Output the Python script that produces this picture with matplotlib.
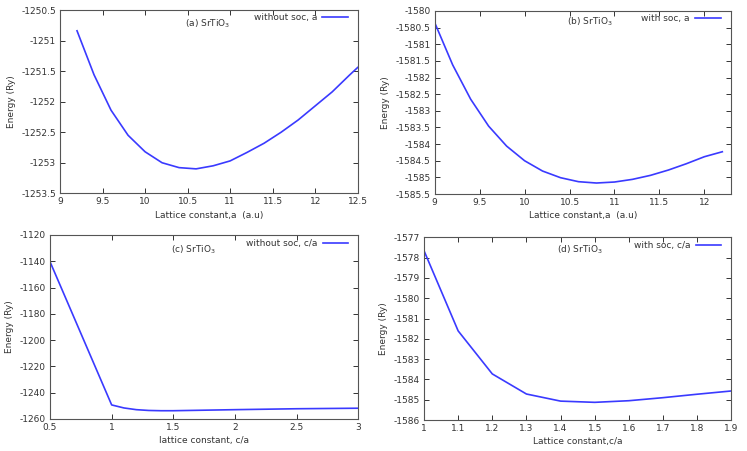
import matplotlib
matplotlib.use("Agg")
import matplotlib.pyplot as plt
import numpy as np

# ---- data ----
a_nosoc = [9.2, 9.4, 9.6, 9.8, 10.0, 10.2, 10.4, 10.6, 10.8, 11.0, 11.2, 11.4, 11.6, 11.8, 12.0, 12.2, 12.4, 12.5]
e_a_nosoc = [-1250.84, -1251.56, -1252.14, -1252.55, -1252.82, -1253.00, -1253.08, -1253.10, -1253.05,
             -1252.97, -1252.83, -1252.68, -1252.50, -1252.30, -1252.07, -1251.84, -1251.57, -1251.44]

a_soc = [9.0, 9.2, 9.4, 9.6, 9.8, 10.0, 10.2, 10.4, 10.6, 10.8, 11.0, 11.2, 11.4, 11.6, 11.8, 12.0, 12.2]
e_a_soc = [-1580.35, -1581.62, -1582.65, -1583.46, -1584.06, -1584.50, -1584.81, -1585.01, -1585.13,
           -1585.17, -1585.14, -1585.06, -1584.94, -1584.78, -1584.59, -1584.38, -1584.23]

ca_nosoc = [0.5, 1.0, 1.1, 1.2, 1.3, 1.4, 1.5, 2.0, 2.5, 3.0]
e_ca_nosoc = [-1140.3, -1249.3, -1251.6, -1252.9, -1253.5, -1253.7, -1253.7, -1252.9, -1252.2, -1251.8]

ca_soc = [1.0, 1.1, 1.2, 1.3, 1.4, 1.5, 1.6, 1.7, 1.8, 1.9]
e_ca_soc = [-1577.66, -1581.61, -1583.73, -1584.72, -1585.07, -1585.13, -1585.05, -1584.90, -1584.73, -1584.57]

xticks_a = [9, 9.5, 10, 10.5, 11, 11.5, 12, 12.5]
yticks_a = [-1250.5, -1251, -1251.5, -1252, -1252.5, -1253, -1253.5]
xticks_b = [9, 9.5, 10, 10.5, 11, 11.5, 12]
yticks_b = [-1580, -1580.5, -1581, -1581.5, -1582, -1582.5, -1583, -1583.5, -1584, -1584.5, -1585, -1585.5]
xticks_c = [0.5, 1, 1.5, 2, 2.5, 3]
yticks_c = [-1120, -1140, -1160, -1180, -1200, -1220, -1240, -1260]
xticks_d = [1, 1.1, 1.2, 1.3, 1.4, 1.5, 1.6, 1.7, 1.8, 1.9]
yticks_d = [-1577, -1578, -1579, -1580, -1581, -1582, -1583, -1584, -1585, -1586]

titles = ["(a) SrTiO$_3$", "(b) SrTiO$_3$", "(c) SrTiO$_3$", "(d) SrTiO$_3$"]
labels = ["without soc, a", "with soc, a", "without soc, c/a", "with soc, c/a"]
xlabels = ["Lattice constant,a  (a.u)", "Lattice constant,a  (a.u)", "lattice constant, c/a", "Lattice constant,c/a"]

plt.rcParams['font.family'] = ['DejaVu Sans']
plt.rcParams['mathtext.fontset'] = 'dejavusans'
FS = 6.5
color = '#3a3aff'

fig = plt.figure(figsize=(7.47, 4.51), dpi=100)

rects = [
    (60, 357.7, 10, 193.3),
    (434.7, 731.3, 11, 194),
    (50, 358.3, 235, 419),
    (424, 731.3, 237.3, 420),
]
W, H = 747, 451

panels = [
    (a_nosoc, e_a_nosoc, xticks_a, yticks_a, (9, 12.5), (-1253.5, -1250.5)),
    (a_soc, e_a_soc, xticks_b, yticks_b, (9, 12.3), (-1585.5, -1580)),
    (ca_nosoc, e_ca_nosoc, xticks_c, yticks_c, (0.5, 3), (-1260, -1120)),
    (ca_soc, e_ca_soc, xticks_d, yticks_d, (1, 1.9), (-1586, -1577)),
]
title_pos = [(0.497, 0.924), (0.523, 0.94), (0.464, 0.918), (0.507, 0.93)]
leg_anchor = [(0.966, 0.982), (0.964, 0.983), (0.966, 0.978), (0.966, 0.980)]

for i, (r, p) in enumerate(zip(rects, panels)):
    l, rr, t, b = r
    ax = fig.add_axes([l / W, 1 - b / H, (rr - l) / W, (b - t) / H])
    x, y, xt, yt, xl, yl = p
    ax.plot(x, y, color=color, lw=1.2, label=labels[i])
    ax.set_xlim(*xl)
    ax.set_ylim(*yl)
    ax.set_xticks(xt)
    ax.set_yticks(yt)
    ax.set_xticklabels([f"{v:g}" for v in xt])
    ax.set_yticklabels([f"{v:g}" for v in yt])
    ax.tick_params(direction='in', top=True, right=True, length=3.5, width=0.7,
                   labelsize=FS, colors='#333333', pad=3)
    for s in ax.spines.values():
        s.set_color('#555555')
        s.set_linewidth(0.8)
    ax.set_xlabel(xlabels[i], fontsize=FS, color='#333333', labelpad=3)
    ax.set_ylabel("Energy (Ry)", fontsize=FS, color='#333333', labelpad=4)
    ax.text(title_pos[i][0], title_pos[i][1], titles[i], transform=ax.transAxes,
            ha='center', va='center', fontsize=FS, color='#333333')
    leg = ax.legend(loc='upper right', bbox_to_anchor=leg_anchor[i], frameon=False,
                    markerfirst=False, fontsize=FS, handlelength=2.8, handletextpad=0.6,
                    borderpad=0, borderaxespad=0)
    for txt in leg.get_texts():
        txt.set_color('#333333')

fig.savefig("out.png", dpi=100)
